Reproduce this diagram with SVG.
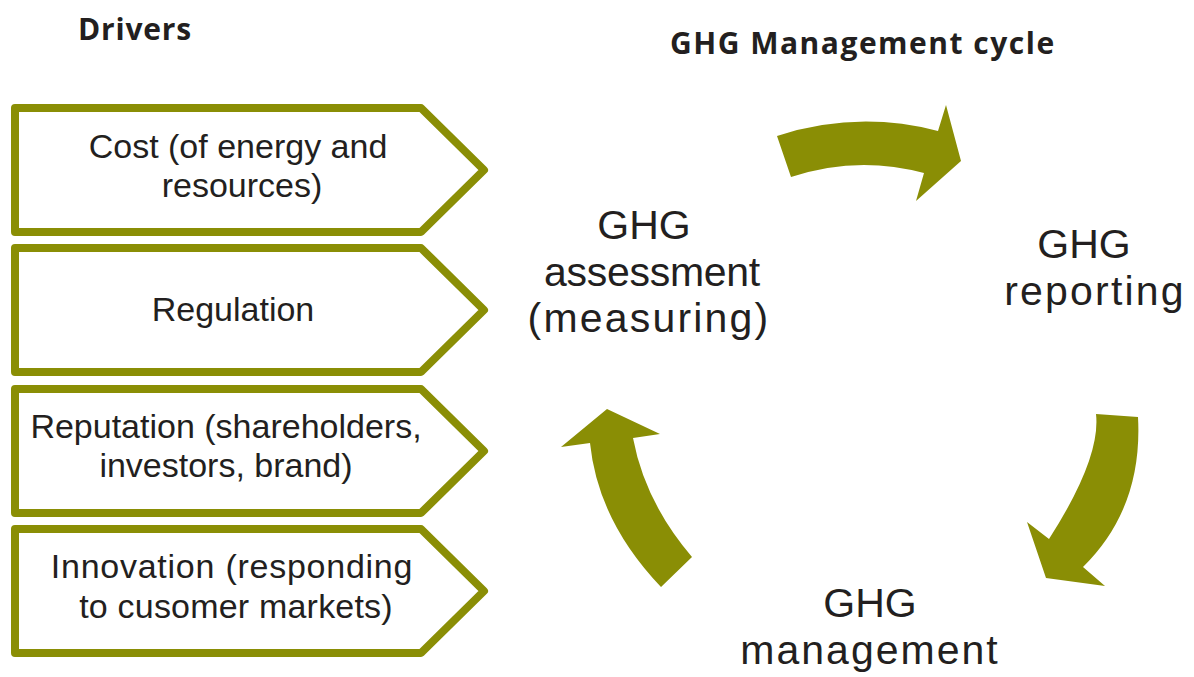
<svg xmlns="http://www.w3.org/2000/svg" width="1194" height="677" viewBox="0 0 1194 677">
  <style>
    .box { fill: #ffffff; stroke: #8a8e05; stroke-width: 8; stroke-linejoin: round; }
    .arrow { fill: #8a8e05; }
    .t { font-family: "Liberation Sans", Arial, sans-serif; fill: #231f20; text-anchor: middle; }
    .bt { font-size: 34px; }
    .ct { font-size: 41px; }
    .title { font-family: "Open Sans", "Noto Sans", "DejaVu Sans", sans-serif; fill: #231f20; font-weight: bold; font-size: 30px; }
  </style>
  <rect width="1194" height="677" fill="#ffffff"/>

  <text class="title" x="78" y="40" letter-spacing="0.8">Drivers</text>
  <text class="title" x="670" y="54" letter-spacing="1.5">GHG Management cycle</text>

  <g id="driver-cost">
    <path class="box" d="M15,108 L421,108 L484,170 L421,232 L15,232 Z"/>
    <text class="t bt" x="238" y="158">Cost (of energy and</text>
    <text class="t bt" x="242" y="197">resources)</text>
  </g>
  <g id="driver-regulation">
    <path class="box" d="M15,248 L421,248 L484,310 L421,372 L15,372 Z"/>
    <text class="t bt" x="233" y="321">Regulation</text>
  </g>
  <g id="driver-reputation">
    <path class="box" d="M15,389 L421,389 L484,451 L421,513 L15,513 Z"/>
    <text class="t bt" x="226" y="438">Reputation (shareholders,</text>
    <text class="t bt" x="226" y="477">investors, brand)</text>
  </g>
  <g id="driver-innovation">
    <path class="box" d="M15,529 L421,529 L484,591 L421,653 L15,653 Z"/>
    <text class="t bt" x="232" y="578" letter-spacing="0.75">Innovation (responding</text>
    <text class="t bt" x="236" y="618" letter-spacing="0.2">to cusomer markets)</text>
  </g>

  <g id="node-assessment">
    <text class="t ct" x="644" y="239">GHG</text>
    <text class="t ct" x="652" y="286" letter-spacing="-0.3">assessment</text>
    <text class="t ct" x="649" y="332" letter-spacing="2.2">(measuring)</text>
  </g>
  <g id="node-reporting">
    <text class="t ct" x="1084" y="258">GHG</text>
    <text class="t ct" x="1095" y="305" letter-spacing="2.2">reporting</text>
  </g>
  <g id="node-management">
    <text class="t ct" x="870" y="617">GHG</text>
    <text class="t ct" x="870" y="664" letter-spacing="2">management</text>
  </g>

  <g id="connectors">
    <path class="arrow" d="M777,136 Q857,110 938,131 L946,105 L961,161 L916,201 L924,173 Q857,155 791,177 Z"/>
    <path class="arrow" d="M1096,414 L1138,417 Q1143,508 1083,567 L1105,586 L1046,578 L1027,522 L1049,539 Q1101,458 1096,414 Z"/>
    <path class="arrow" d="M607,409 L660,434 L633,438 Q645,502 692,557 L661,587 Q598,521 590,443 L561,447 Z"/>
  </g>
</svg>
